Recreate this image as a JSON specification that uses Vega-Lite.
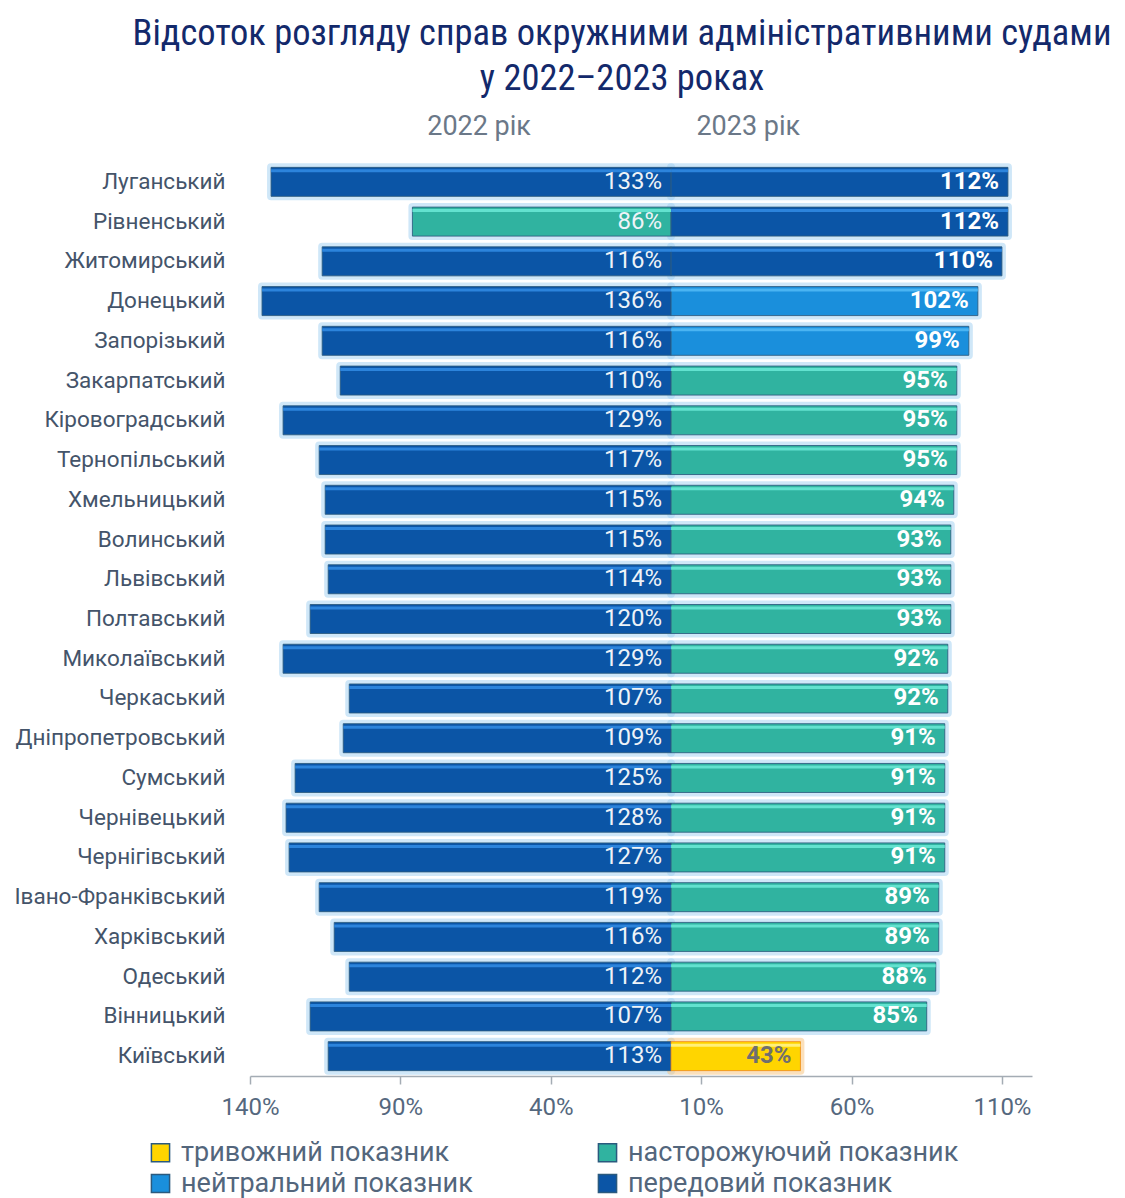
{
  "$schema": "https://vega.github.io/schema/vega-lite/v6.json",
  "width": 782,
  "height": 914,
  "autosize": {"type": "none"},
  "padding": {"left": 250, "top": 162, "right": 93, "bottom": 122},
  "background": "white",
  "title": {
    "text": ["Відсоток розгляду справ окружними адміністративними судами", "у 2022–2023 роках"],
    "font": "Roboto Condensed, Liberation Sans Narrow, Arial Narrow, sans-serif",
    "fontSize": 36.5,
    "fontWeight": "normal",
    "color": "#13296b",
    "anchor": "middle",
    "frame": "group",
    "lineHeight": 45,
    "offset": 15,
    "dx": -19
  },
  "data": {
    "values": [
      {"region": "Луганський", "year": "2022", "value": -133, "label": "133%", "category": "передовий показник"},
      {"region": "Рівненський", "year": "2022", "value": -86, "label": "86%", "category": "насторожуючий показник"},
      {"region": "Житомирський", "year": "2022", "value": -116, "label": "116%", "category": "передовий показник"},
      {"region": "Донецький", "year": "2022", "value": -136, "label": "136%", "category": "передовий показник"},
      {"region": "Запорізький", "year": "2022", "value": -116, "label": "116%", "category": "передовий показник"},
      {"region": "Закарпатський", "year": "2022", "value": -110, "label": "110%", "category": "передовий показник"},
      {"region": "Кіровоградський", "year": "2022", "value": -129, "label": "129%", "category": "передовий показник"},
      {"region": "Тернопільський", "year": "2022", "value": -117, "label": "117%", "category": "передовий показник"},
      {"region": "Хмельницький", "year": "2022", "value": -115, "label": "115%", "category": "передовий показник"},
      {"region": "Волинський", "year": "2022", "value": -115, "label": "115%", "category": "передовий показник"},
      {"region": "Львівський", "year": "2022", "value": -114, "label": "114%", "category": "передовий показник"},
      {"region": "Полтавський", "year": "2022", "value": -120, "label": "120%", "category": "передовий показник"},
      {"region": "Миколаївський", "year": "2022", "value": -129, "label": "129%", "category": "передовий показник"},
      {"region": "Черкаський", "year": "2022", "value": -107, "label": "107%", "category": "передовий показник"},
      {"region": "Дніпропетровський", "year": "2022", "value": -109, "label": "109%", "category": "передовий показник"},
      {"region": "Сумський", "year": "2022", "value": -125, "label": "125%", "category": "передовий показник"},
      {"region": "Чернівецький", "year": "2022", "value": -128, "label": "128%", "category": "передовий показник"},
      {"region": "Чернігівський", "year": "2022", "value": -127, "label": "127%", "category": "передовий показник"},
      {"region": "Івано-Франківський", "year": "2022", "value": -117, "label": "119%", "category": "передовий показник"},
      {"region": "Харківський", "year": "2022", "value": -112, "label": "116%", "category": "передовий показник"},
      {"region": "Одеський", "year": "2022", "value": -107, "label": "112%", "category": "передовий показник"},
      {"region": "Вінницький", "year": "2022", "value": -120, "label": "107%", "category": "передовий показник"},
      {"region": "Київський", "year": "2022", "value": -114, "label": "113%", "category": "передовий показник"},
      {"region": "Луганський", "year": "2023", "value": 112, "label": "112%", "category": "передовий показник"},
      {"region": "Рівненський", "year": "2023", "value": 112, "label": "112%", "category": "передовий показник"},
      {"region": "Житомирський", "year": "2023", "value": 110, "label": "110%", "category": "передовий показник"},
      {"region": "Донецький", "year": "2023", "value": 102, "label": "102%", "category": "нейтральний показник"},
      {"region": "Запорізький", "year": "2023", "value": 99, "label": "99%", "category": "нейтральний показник"},
      {"region": "Закарпатський", "year": "2023", "value": 95, "label": "95%", "category": "насторожуючий показник"},
      {"region": "Кіровоградський", "year": "2023", "value": 95, "label": "95%", "category": "насторожуючий показник"},
      {"region": "Тернопільський", "year": "2023", "value": 95, "label": "95%", "category": "насторожуючий показник"},
      {"region": "Хмельницький", "year": "2023", "value": 94, "label": "94%", "category": "насторожуючий показник"},
      {"region": "Волинський", "year": "2023", "value": 93, "label": "93%", "category": "насторожуючий показник"},
      {"region": "Львівський", "year": "2023", "value": 93, "label": "93%", "category": "насторожуючий показник"},
      {"region": "Полтавський", "year": "2023", "value": 93, "label": "93%", "category": "насторожуючий показник"},
      {"region": "Миколаївський", "year": "2023", "value": 92, "label": "92%", "category": "насторожуючий показник"},
      {"region": "Черкаський", "year": "2023", "value": 92, "label": "92%", "category": "насторожуючий показник"},
      {"region": "Дніпропетровський", "year": "2023", "value": 91, "label": "91%", "category": "насторожуючий показник"},
      {"region": "Сумський", "year": "2023", "value": 91, "label": "91%", "category": "насторожуючий показник"},
      {"region": "Чернівецький", "year": "2023", "value": 91, "label": "91%", "category": "насторожуючий показник"},
      {"region": "Чернігівський", "year": "2023", "value": 91, "label": "91%", "category": "насторожуючий показник"},
      {"region": "Івано-Франківський", "year": "2023", "value": 89, "label": "89%", "category": "насторожуючий показник"},
      {"region": "Харківський", "year": "2023", "value": 89, "label": "89%", "category": "насторожуючий показник"},
      {"region": "Одеський", "year": "2023", "value": 88, "label": "88%", "category": "насторожуючий показник"},
      {"region": "Вінницький", "year": "2023", "value": 85, "label": "85%", "category": "насторожуючий показник"},
      {"region": "Київський", "year": "2023", "value": 43, "label": "43%", "category": "тривожний показник"}
    ]
  },
  "encoding": {
    "y": {
      "field": "region",
      "type": "nominal",
      "sort": null,
      "title": null,
      "scale": {"paddingInner": 0, "paddingOuter": 0},
      "axis": {
        "domain": false,
        "ticks": false,
        "labelPadding": 25,
        "labelFontSize": 22.5,
        "labelFont": "Roboto",
        "labelColor": "#44546a",
        "labelLimit": 400
      }
    }
  },
  "layer": [
    {
      "mark": {"type": "bar", "size": 29, "fill": null, "fillOpacity": 0, "strokeWidth": 8, "strokeOpacity": 0.5, "strokeJoin": "round"},
      "encoding": {
        "x": {
          "field": "value",
          "type": "quantitative",
          "scale": {"domain": [-140, 120], "nice": false, "zero": true},
          "axis": {
            "orient": "bottom",
            "values": [-140, -90, -40, 10, 60, 110],
            "labelExpr": "abs(datum.value) + '%'",
            "labelFlush": false,
            "grid": false,
            "domainColor": "#a4acb4",
            "domainWidth": 1.5,
            "tickColor": "#a4acb4",
            "tickWidth": 1.5,
            "tickSize": 8,
            "labelPadding": 11,
            "labelFontSize": 24,
            "labelFont": "Roboto",
            "labelColor": "#55687e",
            "title": null
          }
        },
        "stroke": {
          "condition": {"test": "datum.category === 'тривожний показник'", "value": "#f7c27a"},
          "value": "#9fcff2"
        }
      }
    },
    {
      "mark": {"type": "bar", "size": 29, "strokeWidth": 1, "strokeOpacity": 0.85},
      "encoding": {
        "x": {"field": "value", "type": "quantitative", "axis": null},
        "color": {
          "field": "category",
          "type": "nominal",
          "scale": {
            "domain": ["тривожний показник", "насторожуючий показник", "нейтральний показник", "передовий показник"],
            "range": ["#ffd500", "#30b3a0", "#1a8fdc", "#0b55a6"]
          },
          "legend": {
            "title": null,
            "orient": "none",
            "legendX": -103,
            "legendY": 977,
            "direction": "horizontal",
            "columns": 2,
            "columnPadding": 121,
            "rowPadding": 3,
            "symbolType": "square",
            "symbolSize": 330,
            "symbolStrokeWidth": 1.5,
            "symbolOpacity": 1,
            "labelFontSize": 27,
            "labelFont": "Roboto",
            "labelColor": "#53667c",
            "labelOffset": 7,
            "labelLimit": 500,
            "encode": {
              "symbols": {
                "update": {
                  "stroke": {"signal": "datum.value === 'тривожний показник' ? '#ef7d1a' : '#2b5266'"}
                }
              }
            }
          }
        },
        "stroke": {
          "condition": {"test": "datum.category === 'тривожний показник'", "value": "#f08c1c"},
          "value": "#2b5a7e"
        }
      }
    },
    {
      "mark": {"type": "bar", "size": 3, "yOffset": -11},
      "encoding": {
        "x": {"field": "value", "type": "quantitative", "axis": null},
        "fill": {
          "condition": [
            {"test": "datum.category === 'передовий показник'", "value": "#2c84dc"},
            {"test": "datum.category === 'нейтральний показник'", "value": "#4ab4f2"},
            {"test": "datum.category === 'насторожуючий показник'", "value": "#62e2cf"}
          ],
          "value": "#fff07a"
        }
      }
    },
    {
      "mark": {"type": "rule", "color": "#7d8893", "strokeWidth": 1.5},
      "encoding": {
        "x": {
          "datum": 0,
          "type": "quantitative",
          "axis": {
            "orient": "top",
            "values": [-64, 25.5],
            "labelExpr": "datum.value < 0 ? '2022 рік' : '2023 рік'",
            "labelFlush": false,
            "domain": false,
            "ticks": false,
            "grid": false,
            "labelPadding": 22,
            "labelFontSize": 27,
            "labelFont": "Roboto",
            "labelColor": "#6b7888",
            "title": null
          }
        }
      }
    },
    {
      "transform": [{"filter": "datum.year === '2022'"}],
      "mark": {"type": "text", "align": "right", "baseline": "middle", "dx": -9, "fontSize": 24, "font": "Roboto", "color": "#eef3f8"},
      "encoding": {
        "x": {"datum": 0, "type": "quantitative", "axis": null},
        "text": {"field": "label"}
      }
    },
    {
      "transform": [{"filter": "datum.year === '2023'"}],
      "mark": {"type": "text", "align": "right", "baseline": "middle", "dx": -9, "fontSize": 24, "font": "Roboto", "fontWeight": "bold"},
      "encoding": {
        "x": {"field": "value", "type": "quantitative", "axis": null},
        "text": {"field": "label"},
        "color": {
          "condition": {"test": "datum.category === 'тривожний показник'", "value": "#6f6f6f"},
          "value": "#ffffff"
        }
      }
    }
  ],
  "resolve": {"axis": {"x": "independent"}, "scale": {"color": "independent"}},
  "config": {"view": {"stroke": null}, "font": "Roboto"}
}
